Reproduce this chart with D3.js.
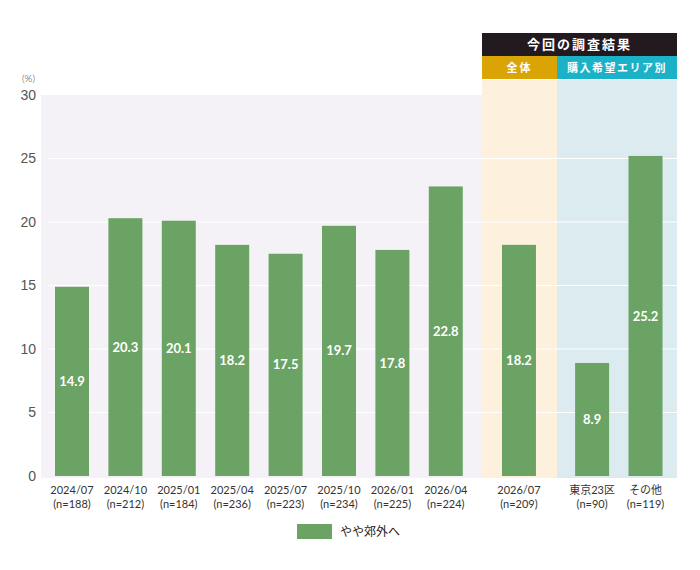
<!DOCTYPE html>
<html>
<head>
<meta charset="utf-8">
<script src="https://cdn.jsdelivr.net/npm/d3@7"></script>
<style>
  body { margin: 0; background: #fff; }
  svg { display: block; font-family: "Lato", "Noto Sans CJK JP", sans-serif; }
</style>
</head>
<body>
<svg id="chart"></svg>
<script>
// data
const dates = ['2024/07', '2024/10', '2025/01', '2025/04', '2025/07', '2025/10', '2026/01', '2026/04', '2026/07', '東京23区', 'その他'];
const samples = ['(n=188)', '(n=212)', '(n=184)', '(n=236)', '(n=223)', '(n=234)', '(n=225)', '(n=224)', '(n=209)', '(n=90)', '(n=119)'];
const values = [14.9, 20.3, 20.1, 18.2, 17.5, 19.7, 17.8, 22.8, 18.2, 8.9, 25.2];
const groups = [0, 0, 0, 0, 0, 0, 0, 0, 1, 2, 2];
const yTicks = [0, 5, 10, 15, 20, 25, 30];
const seriesName = 'やや郊外へ';
const headerTitle = '今回の調査結果';
const headerAll = '全体';
const headerArea = '購入希望エリア別';

const width = 700;
const height = 570;
const barColor = '#6ba365';
const barWidth = 34;

const svg = d3.select('#chart')
    .attr('width', width)
    .attr('height', height);

const y = d3.scaleLinear()
    .domain([0, 30])
    .range([476, 95]);

// slot position: index plus extra gap for each group
const x = d3.scaleLinear()
    .domain([0, 1])
    .range([72, 125.4]);
const slot = (d, i) => i + groups[i] * 0.37;

// plot background
svg.append('rect')
    .attr('x', 41).attr('y', y(30))
    .attr('width', 636).attr('height', 478 - y(30))
    .attr('fill', '#f4f2f6');

// highlighted bands
const bandAllX0 = 482, bandAllX1 = 557, bandAreaX1 = 677;
svg.append('rect')
    .attr('x', bandAllX0).attr('y', 80)
    .attr('width', bandAllX1 - bandAllX0).attr('height', 398)
    .attr('fill', '#fdf0dc');
svg.append('rect')
    .attr('x', bandAllX1).attr('y', 80)
    .attr('width', bandAreaX1 - bandAllX1).attr('height', 398)
    .attr('fill', '#dcebf0');

// header boxes
svg.append('rect')
    .attr('x', bandAllX0).attr('y', 33)
    .attr('width', bandAreaX1 - bandAllX0).attr('height', 23)
    .attr('fill', '#221a1e');
svg.append('rect')
    .attr('x', bandAllX0).attr('y', 56)
    .attr('width', bandAllX1 - bandAllX0).attr('height', 23)
    .attr('fill', '#d9a404');
svg.append('rect')
    .attr('x', bandAllX1).attr('y', 56)
    .attr('width', bandAreaX1 - bandAllX1).attr('height', 23)
    .attr('fill', '#1bb2c8');

svg.append('text')
    .attr('x', (bandAllX0 + bandAreaX1) / 2).attr('y', 49)
    .attr('text-anchor', 'middle')
    .attr('fill', '#fff')
    .style('font-size', '13px')
    .style('font-weight', 'bold')
    .style('letter-spacing', '2px')
    .text(headerTitle);
svg.append('text')
    .attr('x', (bandAllX0 + bandAllX1) / 2).attr('y', 72)
    .attr('text-anchor', 'middle')
    .attr('fill', '#fff')
    .style('font-size', '11px')
    .style('font-weight', 'bold')
    .style('letter-spacing', '2px')
    .text(headerAll);
svg.append('text')
    .attr('x', (bandAllX1 + bandAreaX1) / 2).attr('y', 72)
    .attr('text-anchor', 'middle')
    .attr('fill', '#fff')
    .style('font-size', '11px')
    .style('font-weight', 'bold')
    .style('letter-spacing', '1.5px')
    .text(headerArea);

// gridlines
svg.append('g')
    .selectAll('line')
    .data(yTicks.filter(d => d > 0 && d < 30))
    .join('line')
    .attr('x1', 48).attr('x2', bandAreaX1)
    .attr('y1', d => y(d)).attr('y2', d => y(d))
    .attr('stroke', '#fff')
    .attr('stroke-width', 1);

// y axis
const gy = svg.append('g')
    .attr('transform', 'translate(36, 0)')
    .call(d3.axisLeft(y).tickValues(yTicks).tickSize(0).tickPadding(0));
gy.select('.domain').remove();
gy.selectAll('text')
    .attr('fill', '#555')
    .style('font-size', '14px')
    .style('font-weight', '300');

svg.append('text')
    .attr('x', 35).attr('y', 82)
    .attr('text-anchor', 'end')
    .attr('fill', '#444')
    .style('font-size', '10px')
    .style('font-weight', '300')
    .text('(%)');

// bars
svg.append('g')
    .selectAll('rect')
    .data(values)
    .join('rect')
    .attr('x', (d, i) => x(slot(d, i)) - barWidth / 2)
    .attr('y', d => y(d))
    .attr('width', barWidth)
    .attr('height', d => y(0) - y(d))
    .attr('fill', barColor);

// value labels
svg.append('g')
    .selectAll('text')
    .data(values)
    .join('text')
    .attr('x', (d, i) => x(slot(d, i)))
    .attr('y', d => (y(d) + y(0)) / 2)
    .attr('dy', '0.35em')
    .attr('text-anchor', 'middle')
    .attr('fill', '#fff')
    .style('font-size', '13px')
    .style('font-weight', 'bold')
    .text(d => d.toFixed(1));

// x labels
const xl = svg.append('g')
    .selectAll('text')
    .data(dates)
    .join('text')
    .attr('text-anchor', 'middle')
    .attr('fill', '#333')
    .style('font-size', '11px');
xl.append('tspan')
    .attr('x', (d, i) => x(slot(d, i)))
    .attr('y', 494)
    .text(d => d);
xl.append('tspan')
    .attr('x', (d, i) => x(slot(d, i)))
    .attr('y', 508)
    .text((d, i) => samples[i]);

// legend
svg.append('rect')
    .attr('x', 297).attr('y', 524)
    .attr('width', 35).attr('height', 15)
    .attr('fill', barColor);
svg.append('text')
    .attr('x', 340).attr('y', 532)
    .attr('dy', '0.35em')
    .attr('fill', '#222')
    .style('font-size', '12px')
    .text(seriesName);
</script>
</body>
</html>
